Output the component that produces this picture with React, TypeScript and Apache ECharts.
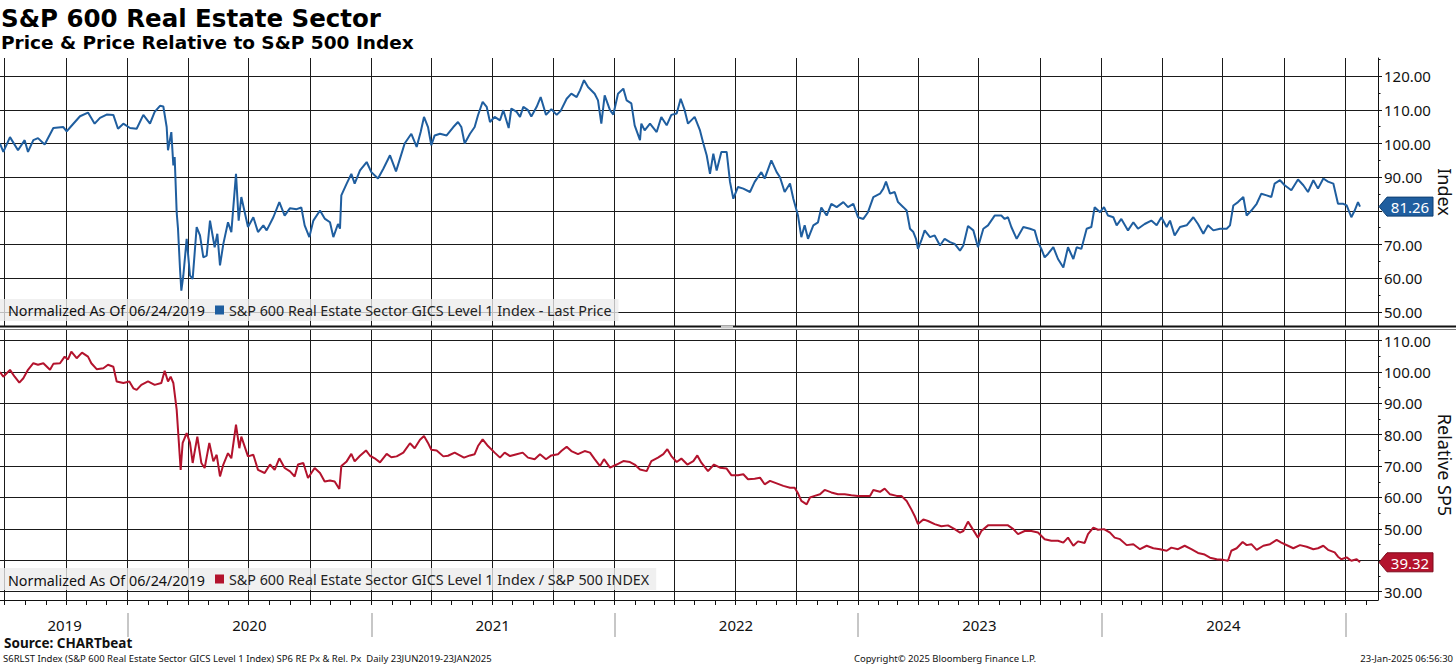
import React, { useEffect, useRef } from 'react';
import * as echarts from 'echarts';

const priceName = 'S&P 600 Real Estate Sector GICS Level 1 Index - Last Price';
const relName = 'S&P 600 Real Estate Sector GICS Level 1 Index / S&P 500 INDEX';

const pricePoints: [string, number][] = [
  ['2019-06-24', 100], ['2019-06-29', 97.5], ['2019-07-09', 101.9], ['2019-07-21', 98], ['2019-07-31', 101],
  ['2019-08-05', 97.5], ['2019-08-13', 101], ['2019-08-20', 101.6], ['2019-08-30', 99.7], ['2019-09-12', 104.6],
  ['2019-09-27', 104.9], ['2019-10-02', 103.6], ['2019-10-09', 105.2], ['2019-10-22', 108.1], ['2019-11-03', 109.2],
  ['2019-11-13', 105.9], ['2019-11-21', 107.6], ['2019-12-01', 108.6], ['2019-12-11', 108.5], ['2019-12-18', 104.4],
  ['2019-12-26', 105.9], ['2020-01-05', 104.6], ['2020-01-15', 104.4], ['2020-01-25', 108.5], ['2020-02-04', 105.9],
  ['2020-02-11', 109.4], ['2020-02-19', 111.2], ['2020-02-24', 111], ['2020-02-29', 104.9], ['2020-03-02', 98],
  ['2020-03-07', 103.4], ['2020-03-10', 93.5], ['2020-03-12', 96], ['2020-03-15', 79.6], ['2020-03-17', 74.7],
  ['2020-03-20', 62.8], ['2020-03-22', 56.3], ['2020-03-25', 60.8], ['2020-03-30', 71.7], ['2020-04-04', 60.8],
  ['2020-04-08', 59.8], ['2020-04-14', 75.2], ['2020-04-19', 72.7], ['2020-04-24', 66.2], ['2020-04-29', 66.7],
  ['2020-05-04', 77.1], ['2020-05-11', 69.2], ['2020-05-15', 73.2], ['2020-05-19', 63.8], ['2020-05-24', 70.2],
  ['2020-05-31', 76.6], ['2020-06-05', 73.7], ['2020-06-12', 91], ['2020-06-16', 77.1], ['2020-06-20', 84.1],
  ['2020-06-30', 75.2], ['2020-07-08', 78.1], ['2020-07-15', 73.7], ['2020-07-23', 75.7], ['2020-07-28', 74.2],
  ['2020-08-07', 78.1], ['2020-08-16', 82.6], ['2020-08-24', 78.6], ['2020-09-01', 80.8], ['2020-09-11', 80.5],
  ['2020-09-18', 81], ['2020-09-23', 75.7], ['2020-09-30', 72.2], ['2020-10-06', 77.1], ['2020-10-16', 80.1],
  ['2020-10-23', 77.7], ['2020-10-31', 76.6], ['2020-11-05', 72.2], ['2020-11-12', 76.1], ['2020-11-15', 74.7],
  ['2020-11-17', 84.6], ['2020-11-25', 88.1], ['2020-12-02', 91], ['2020-12-07', 88.1], ['2020-12-15', 92],
  ['2020-12-25', 94.5], ['2021-01-01', 91.5], ['2021-01-11', 89.6], ['2021-01-19', 92.5], ['2021-01-29', 96.5],
  ['2021-02-07', 91.7], ['2021-02-13', 95.5], ['2021-02-20', 100], ['2021-03-02', 102.9], ['2021-03-10', 99],
  ['2021-03-16', 103.4], ['2021-03-21', 107.9], ['2021-03-27', 104.9], ['2021-04-01', 99.5], ['2021-04-06', 102.4],
  ['2021-04-14', 102.9], ['2021-04-24', 102.4], ['2021-05-04', 104.9], ['2021-05-11', 106.4], ['2021-05-16', 104.9],
  ['2021-05-21', 100], ['2021-05-29', 102.9], ['2021-06-05', 104.9], ['2021-06-10', 108.4], ['2021-06-17', 112.4],
  ['2021-06-23', 110.9], ['2021-06-28', 106.4], ['2021-07-05', 107.9], ['2021-07-13', 106.9], ['2021-07-18', 109.9],
  ['2021-07-26', 104.6], ['2021-07-30', 110.4], ['2021-08-07', 109.4], ['2021-08-12', 107.9], ['2021-08-17', 110.9],
  ['2021-08-24', 109.9], ['2021-08-29', 108], ['2021-09-06', 110.9], ['2021-09-12', 113.8], ['2021-09-20', 108.5],
  ['2021-09-28', 110.2], ['2021-10-06', 108.5], ['2021-10-12', 109.7], ['2021-10-21', 113.3], ['2021-10-28', 114.8],
  ['2021-11-05', 113.8], ['2021-11-10', 115.8], ['2021-11-16', 118.8], ['2021-11-22', 116.8], ['2021-12-02', 114.8],
  ['2021-12-07', 112.8], ['2021-12-12', 105.9], ['2021-12-17', 114.3], ['2021-12-25', 109.9], ['2021-12-30', 108.6],
  ['2022-01-06', 114.8], ['2022-01-14', 116.3], ['2022-01-19', 112.8], ['2022-01-26', 111.9], ['2022-01-31', 105.4],
  ['2022-02-08', 101], ['2022-02-10', 105.9], ['2022-02-15', 103.9], ['2022-02-23', 105.9], ['2022-03-05', 103.4],
  ['2022-03-12', 107.9], ['2022-03-20', 105.4], ['2022-03-27', 108.5], ['2022-04-04', 108.9], ['2022-04-10', 113.3],
  ['2022-04-16', 109.9], ['2022-04-21', 105.9], ['2022-05-01', 107.9], ['2022-05-09', 103.9], ['2022-05-14', 100],
  ['2022-05-19', 96.5], ['2022-05-24', 91], ['2022-05-29', 97], ['2022-06-03', 92], ['2022-06-10', 97.5],
  ['2022-06-18', 97.5], ['2022-06-23', 88.6], ['2022-06-28', 83.6], ['2022-07-05', 87.1], ['2022-07-13', 86.6],
  ['2022-07-23', 85.6], ['2022-07-30', 88.6], ['2022-08-09', 91.5], ['2022-08-14', 89.6], ['2022-08-24', 95],
  ['2022-09-01', 91.5], ['2022-09-06', 90], ['2022-09-13', 85.6], ['2022-09-21', 88.1], ['2022-09-26', 83.6],
  ['2022-10-03', 78.6], ['2022-10-08', 72.2], ['2022-10-13', 75.7], ['2022-10-18', 71.7], ['2022-10-26', 75.7],
  ['2022-11-02', 76.6], ['2022-11-07', 81], ['2022-11-15', 78.6], ['2022-11-22', 82.1], ['2022-11-30', 81.1],
  ['2022-12-10', 82.6], ['2022-12-17', 81.1], ['2022-12-25', 82.1], ['2023-01-01', 78.1], ['2023-01-09', 77.6],
  ['2023-01-16', 79.6], ['2023-01-24', 84.1], ['2023-02-03', 85.1], ['2023-02-08', 86.6], ['2023-02-12', 88.7],
  ['2023-02-18', 85.1], ['2023-02-25', 85.6], ['2023-03-02', 82.6], ['2023-03-10', 81.1], ['2023-03-15', 80.1],
  ['2023-03-20', 74.7], ['2023-03-25', 73.7], ['2023-03-29', 71.7], ['2023-04-01', 68.7], ['2023-04-06', 71.2],
  ['2023-04-11', 74.2], ['2023-04-19', 72.2], ['2023-04-26', 72.7], ['2023-05-04', 69.7], ['2023-05-11', 71.7],
  ['2023-05-19', 70.7], ['2023-05-26', 70.2], ['2023-06-03', 68.2], ['2023-06-08', 69.7], ['2023-06-15', 75.5],
  ['2023-06-23', 74.2], ['2023-06-30', 69.2], ['2023-07-08', 74.7], ['2023-07-15', 75.7], ['2023-07-25', 78.6],
  ['2023-08-04', 78.6], ['2023-08-09', 77.6], ['2023-08-14', 78.1], ['2023-08-19', 75.2], ['2023-08-27', 71.7],
  ['2023-09-06', 75.2], ['2023-09-16', 74.7], ['2023-09-23', 74.2], ['2023-09-28', 70.7], ['2023-10-03', 68.7],
  ['2023-10-08', 66.2], ['2023-10-13', 67.2], ['2023-10-21', 69.2], ['2023-10-28', 65.7], ['2023-11-05', 63.2],
  ['2023-11-12', 69.2], ['2023-11-20', 65.7], ['2023-11-25', 69.2], ['2023-12-02', 68.7], ['2023-12-10', 74.7],
  ['2023-12-17', 75.2], ['2023-12-22', 81.1], ['2023-12-30', 79.6], ['2024-01-05', 81.1], ['2024-01-11', 78.6],
  ['2024-01-19', 78.1], ['2024-01-24', 75.7], ['2024-01-31', 77.6], ['2024-02-10', 74.2], ['2024-02-18', 76.6],
  ['2024-02-25', 74.7], ['2024-03-06', 76.1], ['2024-03-16', 77.1], ['2024-03-24', 75.7], ['2024-03-31', 78.1],
  ['2024-04-08', 75.2], ['2024-04-13', 77.1], ['2024-04-20', 72.7], ['2024-04-28', 75.2], ['2024-05-08', 75.7],
  ['2024-05-18', 78.1], ['2024-05-25', 76.1], ['2024-06-02', 73.2], ['2024-06-09', 75.7], ['2024-06-17', 74.2],
  ['2024-06-27', 74.7], ['2024-07-07', 74.7], ['2024-07-12', 75.7], ['2024-07-17', 81.6], ['2024-07-24', 82.6],
  ['2024-08-01', 84.1], ['2024-08-06', 78.6], ['2024-08-13', 80.1], ['2024-08-21', 82.1], ['2024-08-28', 85.1],
  ['2024-09-05', 84.6], ['2024-09-12', 84.1], ['2024-09-17', 88.1], ['2024-09-25', 89.1], ['2024-10-02', 87.6],
  ['2024-10-12', 86.1], ['2024-10-22', 89.3], ['2024-10-30', 87.6], ['2024-11-06', 85.6], ['2024-11-14', 89.1],
  ['2024-11-21', 86.6], ['2024-11-29', 89.6], ['2024-12-06', 88.7], ['2024-12-14', 88.1], ['2024-12-21', 82.1],
  ['2024-12-29', 82.1], ['2025-01-03', 81.6], ['2025-01-10', 78.1], ['2025-01-15', 80.1], ['2025-01-20', 82.6],
  ['2025-01-23', 81.26],
];

const relPoints: [string, number][] = [
  ['2019-06-24', 100], ['2019-06-29', 98.5], ['2019-07-09', 100.7], ['2019-07-16', 98.5], ['2019-07-23', 96.6],
  ['2019-07-29', 98], ['2019-08-05', 100.7], ['2019-08-13', 102.8], ['2019-08-20', 102.3], ['2019-08-28', 102.8],
  ['2019-09-07', 100.7], ['2019-09-12', 102.6], ['2019-09-22', 102.8], ['2019-09-29', 104.9], ['2019-10-04', 104],
  ['2019-10-09', 106.5], ['2019-10-17', 104.4], ['2019-10-25', 106.2], ['2019-11-03', 104.9], ['2019-11-08', 102.8],
  ['2019-11-16', 100.9], ['2019-11-26', 101.2], ['2019-12-03', 102.3], ['2019-12-11', 101.7], ['2019-12-16', 97],
  ['2019-12-26', 96.5], ['2020-01-04', 97], ['2020-01-10', 94.8], ['2020-01-15', 94.3], ['2020-01-22', 95.9],
  ['2020-02-01', 97], ['2020-02-11', 95.9], ['2020-02-21', 96.5], ['2020-02-26', 100.4], ['2020-03-02', 97],
  ['2020-03-06', 98.5], ['2020-03-10', 96.5], ['2020-03-15', 88], ['2020-03-18', 78.4], ['2020-03-21', 68.8],
  ['2020-03-24', 77.4], ['2020-03-30', 80.5], ['2020-04-04', 77.4], ['2020-04-08', 71], ['2020-04-15', 79.4],
  ['2020-04-21', 71], ['2020-04-26', 69.4], ['2020-05-03', 77.4], ['2020-05-09', 71.5], ['2020-05-14', 73.6],
  ['2020-05-19', 66.7], ['2020-05-24', 70.5], ['2020-05-31', 74.1], ['2020-06-05', 72.5], ['2020-06-12', 83.2],
  ['2020-06-17', 75.7], ['2020-06-20', 79.4], ['2020-06-30', 73.1], ['2020-07-08', 73.6], ['2020-07-15', 68.8],
  ['2020-07-25', 67.8], ['2020-08-02', 70.5], ['2020-08-09', 68.8], ['2020-08-16', 72.5], ['2020-08-24', 69.4],
  ['2020-09-01', 68.3], ['2020-09-08', 66.7], ['2020-09-13', 70.5], ['2020-09-21', 71], ['2020-09-28', 66.2],
  ['2020-10-08', 69.4], ['2020-10-16', 67.8], ['2020-10-23', 65.1], ['2020-10-31', 65.4], ['2020-11-07', 65.1],
  ['2020-11-14', 62.7], ['2020-11-17', 70], ['2020-11-25', 71.5], ['2020-12-02', 73.9], ['2020-12-07', 71.5],
  ['2020-12-15', 73.3], ['2020-12-24', 75], ['2020-12-30', 73.3], ['2021-01-06', 72.5], ['2021-01-14', 71.2],
  ['2021-01-24', 73.9], ['2021-01-31', 72.8], ['2021-02-08', 73.1], ['2021-02-18', 74.3], ['2021-02-28', 77.3],
  ['2021-03-07', 75.7], ['2021-03-15', 78.4], ['2021-03-21', 79.6], ['2021-03-27', 77.4], ['2021-04-01', 75.2],
  ['2021-04-09', 75], ['2021-04-19', 73.1], ['2021-04-26', 73.3], ['2021-05-06', 74.3], ['2021-05-20', 72.7],
  ['2021-05-29', 73.4], ['2021-06-05', 73.8], ['2021-06-10', 76.4], ['2021-06-17', 78.5], ['2021-06-25', 76.4],
  ['2021-07-05', 74.3], ['2021-07-13', 72.7], ['2021-07-20', 74.3], ['2021-07-28', 73.2], ['2021-08-07', 73.8],
  ['2021-08-16', 74.3], ['2021-08-24', 72.7], ['2021-09-03', 72.2], ['2021-09-11', 73.8], ['2021-09-20', 72.2],
  ['2021-09-28', 73.4], ['2021-10-08', 73.8], ['2021-10-13', 74.8], ['2021-10-21', 76.2], ['2021-10-28', 74.8],
  ['2021-11-07', 73.8], ['2021-11-17', 74.8], ['2021-11-25', 74.3], ['2021-12-02', 72.2], ['2021-12-10', 70],
  ['2021-12-16', 72.2], ['2021-12-25', 69.5], ['2022-01-04', 70.5], ['2022-01-14', 71.6], ['2022-01-24', 71.3],
  ['2022-01-31', 70.5], ['2022-02-08', 68.9], ['2022-02-18', 68.4], ['2022-02-25', 71.6], ['2022-03-07', 72.7],
  ['2022-03-15', 73.8], ['2022-03-21', 75.4], ['2022-03-27', 73.2], ['2022-04-04', 71.3], ['2022-04-11', 72.4],
  ['2022-04-20', 70.5], ['2022-04-29', 71.6], ['2022-05-05', 73.4], ['2022-05-11', 71.1], ['2022-05-21', 68.4],
  ['2022-05-30', 70.5], ['2022-06-08', 69.5], ['2022-06-18', 69.2], ['2022-06-25', 67.1], ['2022-07-05', 67.1],
  ['2022-07-13', 67.4], ['2022-07-20', 65.8], ['2022-07-30', 66], ['2022-08-07', 66.3], ['2022-08-14', 64.2],
  ['2022-08-22', 65.3], ['2022-09-01', 64.5], ['2022-09-11', 63.7], ['2022-09-21', 63.1], ['2022-09-28', 63.1],
  ['2022-10-03', 61.3], ['2022-10-08', 58.9], ['2022-10-16', 57.8], ['2022-10-21', 60], ['2022-10-28', 60.5],
  ['2022-11-05', 61], ['2022-11-12', 62.4], ['2022-11-22', 61.6], ['2022-12-02', 61], ['2022-12-12', 61],
  ['2022-12-22', 60.7], ['2023-01-01', 60.5], ['2023-01-11', 60.5], ['2023-01-19', 60.5], ['2023-01-24', 62.4],
  ['2023-02-03', 61.8], ['2023-02-10', 62.8], ['2023-02-18', 61], ['2023-02-28', 60.5], ['2023-03-07', 60.5],
  ['2023-03-15', 58.9], ['2023-03-22', 56.2], ['2023-03-27', 54.1], ['2023-04-01', 51.5], ['2023-04-09', 53],
  ['2023-04-16', 52.5], ['2023-04-26', 51.5], ['2023-05-06', 50.8], ['2023-05-16', 51.1], ['2023-05-26', 49.9],
  ['2023-06-03', 48.8], ['2023-06-08', 49.3], ['2023-06-15', 52.3], ['2023-06-22', 49.9], ['2023-06-30', 47.2],
  ['2023-07-05', 49.3], ['2023-07-15', 51.1], ['2023-07-25', 51.1], ['2023-08-04', 51.1], ['2023-08-14', 51.1],
  ['2023-08-22', 49.9], ['2023-08-29', 48.3], ['2023-09-08', 49.3], ['2023-09-18', 49.3], ['2023-09-28', 48.8],
  ['2023-10-08', 46.7], ['2023-10-18', 46.2], ['2023-10-28', 46.2], ['2023-11-05', 45.6], ['2023-11-12', 47.2],
  ['2023-11-20', 44.6], ['2023-11-27', 46], ['2023-12-07', 45.5], ['2023-12-12', 48.3], ['2023-12-20', 50.4],
  ['2023-12-27', 49.7], ['2024-01-05', 49.9], ['2024-01-14', 48.8], ['2024-01-21', 47.2], ['2024-01-29', 46.7],
  ['2024-02-08', 44.8], ['2024-02-18', 45.1], ['2024-02-28', 43.5], ['2024-03-09', 44.6], ['2024-03-19', 43.8],
  ['2024-03-29', 43.5], ['2024-04-08', 43], ['2024-04-15', 44], ['2024-04-25', 43.5], ['2024-05-05', 44.6],
  ['2024-05-15', 43.5], ['2024-05-25', 42.3], ['2024-06-04', 41.8], ['2024-06-12', 40.8], ['2024-06-22', 40.3],
  ['2024-07-02', 40.1], ['2024-07-09', 39.8], ['2024-07-14', 43], ['2024-07-22', 43.8], ['2024-07-31', 45.8],
  ['2024-08-06', 44.8], ['2024-08-13', 45.1], ['2024-08-21', 43.3], ['2024-08-31', 44.6], ['2024-09-10', 45.1],
  ['2024-09-20', 46.5], ['2024-09-27', 45.6], ['2024-10-07', 44.6], ['2024-10-15', 43.8], ['2024-10-25', 44.8],
  ['2024-11-04', 44.3], ['2024-11-14', 43.5], ['2024-11-21', 43.8], ['2024-11-29', 44.6], ['2024-12-06', 43.3],
  ['2024-12-16', 42.5], ['2024-12-21', 41.1], ['2024-12-26', 40.3], ['2025-01-03', 40.9], ['2025-01-10', 39.8],
  ['2025-01-18', 40.3], ['2025-01-23', 39.32],
];

const priceTicks = [50, 60, 70, 80, 90, 100, 110, 120];
const priceTickLabels = [50, 60, 70, 90, 100, 110, 120];
const priceMinorTicks = [50, 55, 60, 65, 70, 75, 80, 85, 90, 95, 100, 105, 110, 115, 120, 125];
const relTicks = [30, 40, 50, 60, 70, 80, 90, 100, 110];
const relTickLabels = [30, 50, 60, 70, 80, 90, 100, 110];
const relMinorTicks = [30, 35, 40, 45, 50, 55, 60, 65, 70, 75, 80, 85, 90, 95, 100, 105, 110];
const yearBoundaries = ['2020-01-01', '2021-01-01', '2022-01-01', '2023-01-01', '2024-01-01', '2025-01-01'];
const yearLabelDates = ['2019-09-29', '2020-07-02', '2021-07-02', '2022-07-02', '2023-07-02', '2024-07-02'];
const axisStart = '2019-06-24';
const axisEnd = '2025-02-19';
const priceRange = [45.8, 125.4];
const relRange = [27.3, 113.4];

const ts = (s: string) => {
  const [y, m, d] = s.split('-').map(Number);
  return new Date(y, m - 1, d).getTime();
};

function monthStarts(): number[] {
  const out: number[] = [];
  let y = 2019;
  let m = 6;
  const end = ts(axisEnd);
  while (true) {
    const t = new Date(y, m, 1).getTime();
    if (t > end) break;
    out.push(t);
    m += 1;
    if (m > 11) { m = 0; y += 1; }
  }
  return out;
}

const BLUE = '#1f5e9f';
const RED = '#b3132d';
const FONT = 'Noto Sans';

export default function App() {
  const ref = useRef<HTMLDivElement>(null);

  useEffect(() => {
    if (!ref.current) return;
    const chart = echarts.init(ref.current, undefined, { renderer: 'svg' });
    const xMin = ts(axisStart);
    const xMax = ts(axisEnd);
    const months = monthStarts();
    const quarters = months.filter((t) => new Date(t).getMonth() % 3 === 0);
    const priceData = pricePoints.map(([d, v]) => [ts(d), v]);
    const relData = relPoints.map(([d, v]) => [ts(d), v]);

    const mainX = (gridIndex: number) => ({
      type: 'value',
      gridIndex,
      min: xMin,
      max: xMax,
      position: 'bottom',
      axisLine: { show: false },
      axisTick: { show: false, customValues: quarters },
      axisLabel: { show: false, customValues: quarters },
      splitLine: { show: true, lineStyle: { color: '#1a1a1a', width: 1 } },
    });

    const mainY = (gridIndex: number, range: number[], ticks: number[], labels: number[], name: string) => ({
      type: 'value',
      gridIndex,
      position: 'right',
      min: range[0],
      max: range[1],
      name,
      nameLocation: 'middle',
      nameRotate: -90,
      nameGap: 58,
      nameMoveOverlap: false,
      nameTextStyle: { fontFamily: FONT, fontSize: 18, color: '#111' },
      axisLine: { show: true, lineStyle: { color: '#111', width: 1 } },
      axisTick: { show: true, length: 4, customValues: ticks, lineStyle: { color: '#111' } },
      axisLabel: {
        show: true,
        customValues: labels,
        margin: 6,
        fontFamily: FONT,
        fontSize: 15,
        color: '#111',
        formatter: (v: number) => v.toFixed(2),
      },
      splitLine: { show: true, lineStyle: { color: '#1a1a1a', width: 1 } },
    });

    const minorY = (gridIndex: number, range: number[], ticks: number[]) => ({
      type: 'value',
      gridIndex,
      position: 'right',
      min: range[0],
      max: range[1],
      axisLine: { show: false },
      axisTick: { show: true, length: 2.5, customValues: ticks, lineStyle: { color: '#111' } },
      axisLabel: { show: false },
      splitLine: { show: false },
    });

    const legendBox = (name: string, top: number) => ({
      data: [name],
      left: 0,
      top,
      selectedMode: false,
      icon: 'rect',
      itemWidth: 9,
      itemHeight: 9,
      padding: [4, 7, 4, 215],
      backgroundColor: 'rgba(236,236,236,0.78)',
      textStyle: { fontFamily: FONT, fontSize: 14.3, color: '#222' },
    });

    const option: any = {
      animation: false,
      backgroundColor: '#ffffff',
      textStyle: { fontFamily: FONT },
      title: [
        {
          text: 'S&P 600 Real Estate Sector',
          left: 1,
          top: 6,
          padding: 0,
          textStyle: { fontFamily: 'DejaVu Sans', fontWeight: 'bold', fontSize: 24.5, color: '#000' },
        },
        {
          text: 'Price & Price Relative to S&P 500 Index',
          left: 1,
          top: 33,
          padding: 0,
          textStyle: { fontFamily: 'DejaVu Sans', fontWeight: 'bold', fontSize: 18.5, color: '#000' },
        },
      ],
      legend: [legendBox(priceName, 299), legendBox(relName, 568)],
      grid: [
        { left: 0, right: 78, top: 58, height: 268, containLabel: false, outerBoundsMode: 'none' },
        { left: 0, right: 78, top: 330, height: 270, containLabel: false, outerBoundsMode: 'none' },
      ],
      xAxis: [
        mainX(0),
        mainX(1),
        {
          type: 'value',
          gridIndex: 1,
          min: xMin,
          max: xMax,
          position: 'bottom',
          axisLine: { show: true, lineStyle: { color: '#111', width: 1 } },
          axisTick: { show: true, length: 5, customValues: months, lineStyle: { color: '#111' } },
          axisLabel: { show: false, customValues: months },
          splitLine: { show: false },
        },
        {
          type: 'value',
          gridIndex: 1,
          min: xMin,
          max: xMax,
          position: 'bottom',
          offset: 13,
          axisLine: { show: false },
          axisTick: {
            show: true,
            length: 24,
            customValues: yearBoundaries.map(ts),
            lineStyle: { color: '#b4b4b4', width: 1.5 },
          },
          axisLabel: {
            show: true,
            customValues: yearLabelDates.map(ts),
            margin: 4,
            fontFamily: FONT,
            fontSize: 15,
            color: '#111',
            formatter: (v: number) => String(new Date(v).getFullYear()),
          },
          splitLine: { show: false },
        },
      ],
      yAxis: [
        mainY(0, priceRange, priceTicks, priceTickLabels, 'Index'),
        minorY(0, priceRange, priceMinorTicks),
        mainY(1, relRange, relTicks, relTickLabels, 'Relative SP5'),
        minorY(1, relRange, relMinorTicks),
      ],
      series: [
        {
          name: priceName,
          type: 'line',
          xAxisIndex: 0,
          yAxisIndex: 0,
          data: priceData,
          showSymbol: false,
          symbol: 'none',
          color: BLUE,
          lineStyle: { color: BLUE, width: 2 },
          z: 5,
        },
        {
          name: relName,
          type: 'line',
          xAxisIndex: 1,
          yAxisIndex: 2,
          data: relData,
          showSymbol: false,
          symbol: 'none',
          color: RED,
          lineStyle: { color: RED, width: 2 },
          z: 5,
        },
      ],
    };

    chart.setOption(option);

    const lastPrice = pricePoints[pricePoints.length - 1][1];
    const lastRel = relPoints[relPoints.length - 1][1];
    const yPrice = chart.convertToPixel({ yAxisIndex: 0 }, lastPrice) as number;
    const yRel = chart.convertToPixel({ yAxisIndex: 2 }, lastRel) as number;
    const xRight = chart.convertToPixel({ xAxisIndex: 0 }, xMax) as number;

    const tag = (y: number, value: number, fill: string, stroke: string) => ({
      type: 'group',
      x: xRight + 1,
      y,
      z: 20,
      children: [
        {
          type: 'polygon',
          z: 20,
          shape: { points: [[0, 0], [8, -9.5], [54, -9.5], [54, 9.5], [8, 9.5]] },
          style: { fill, stroke, lineWidth: 1 },
        },
        {
          type: 'text',
          z: 21,
          x: 31,
          y: 0.5,
          style: {
            text: value.toFixed(2),
            fill: '#ffffff',
            fontFamily: FONT,
            fontSize: 15,
            align: 'center',
            verticalAlign: 'middle',
            textAlign: 'center',
            textVerticalAlign: 'middle',
          },
        },
      ],
    });

    const footText = (text: string, x: number, y: number, align: string, size: number, bold = false) => ({
      type: 'text',
      x,
      y,
      z: 20,
      style: {
        text,
        fill: '#111',
        fontFamily: FONT,
        fontSize: size,
        fontWeight: bold ? 'bold' : 'normal',
        align,
        verticalAlign: 'middle',
        textAlign: align,
        textVerticalAlign: 'middle',
      },
    });

    chart.setOption({
      graphic: [
        { type: 'line', z: 15, shape: { x1: 0, y1: 326.5, x2: 1456, y2: 326.5 }, style: { stroke: '#111', lineWidth: 2 } },
        { type: 'line', z: 15, shape: { x1: 0, y1: 329.5, x2: 1456, y2: 329.5 }, style: { stroke: '#777', lineWidth: 1 } },
        { type: 'rect', z: 16, shape: { x: 721, y: 325.5, width: 12, height: 3 }, style: { fill: '#c8c8c8' } },
        footText('Normalized As Of 06/24/2019', 8, 310.5, 'left', 14.3),
        footText('Normalized As Of 06/24/2019', 8, 580, 'left', 14.3),
        tag(yPrice, lastPrice, BLUE, '#0e3f72'),
        tag(yRel, lastRel, RED, '#7d0a1c'),
        footText('Source: CHARTbeat', 4, 643, 'left', 13.5, true),
        footText(
          'S6RLST Index (S&P 600 Real Estate Sector GICS Level 1 Index) SP6 RE Px & Rel. Px  Daily 23JUN2019-23JAN2025',
          3, 658, 'left', 9.5,
        ),
        footText('Copyright\u00a9 2025 Bloomberg Finance L.P.', 945, 658, 'center', 9.5),
        footText('23-Jan-2025 06:56:30', 1453, 658, 'right', 9.5),
      ],
    });

    return () => {
      chart.dispose();
    };
  }, []);

  return (
    <div style={{ position: 'fixed', left: 0, top: 0, width: 1456, height: 665, background: '#fff' }}>
      <div ref={ref} style={{ width: 1456, height: 665 }} />
    </div>
  );
}
